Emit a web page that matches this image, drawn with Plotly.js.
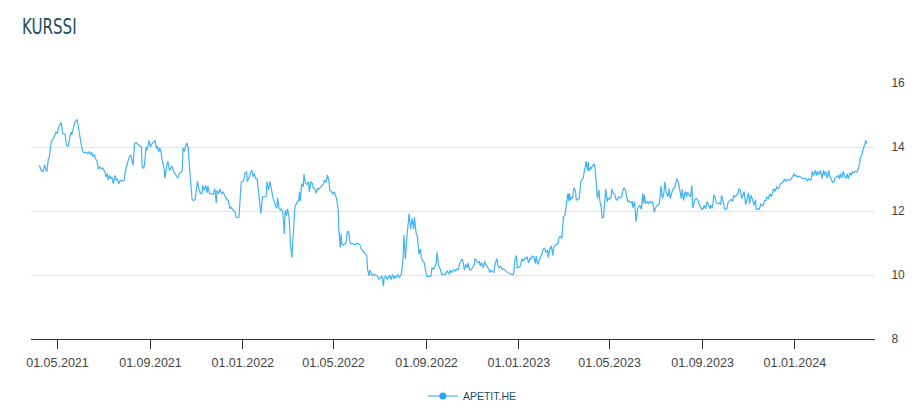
<!DOCTYPE html>
<html>
<head>
<meta charset="utf-8">
<script src="https://cdn.plot.ly/plotly-3.0.1.min.js"></script>
<style>
html,body{margin:0;padding:0;background:#fff;}
#chart{width:921px;height:419px;}
</style>
</head>
<body>
<div id="chart"></div>
<script>
const chartTitle = 'KURSSI';
const seriesName = 'APETIT.HE';
const tickDates = ['2021-05-01','2021-09-01','2022-01-01','2022-05-01','2022-09-01','2023-01-01','2023-05-01','2023-09-01','2024-01-01'];
const yTicks = [8, 10, 12, 14, 16];

const dates = [
'2021-04-07','2021-04-10','2021-04-12','2021-04-14','2021-04-16','2021-04-17','2021-04-19','2021-04-20','2021-04-23','2021-04-25',
'2021-04-27','2021-04-29','2021-05-01','2021-05-02','2021-05-04','2021-05-06','2021-05-08','2021-05-11','2021-05-13','2021-05-15',
'2021-05-17','2021-05-19','2021-05-20','2021-05-22','2021-05-24','2021-05-27','2021-05-29','2021-05-31','2021-06-02','2021-06-04',
'2021-06-06','2021-06-08','2021-06-10','2021-06-12','2021-06-14','2021-06-15','2021-06-17','2021-06-19','2021-06-20','2021-06-22',
'2021-06-24','2021-06-26','2021-06-28','2021-06-30','2021-07-03','2021-07-04','2021-07-06','2021-07-07','2021-07-09','2021-07-11',
'2021-07-12','2021-07-14','2021-07-16','2021-07-18','2021-07-19','2021-07-21','2021-07-23','2021-07-26','2021-07-28','2021-07-30',
'2021-08-02','2021-08-04','2021-08-06','2021-08-08','2021-08-09','2021-08-11','2021-08-13','2021-08-16','2021-08-18','2021-08-20',
'2021-08-21','2021-08-23','2021-08-24','2021-08-26','2021-08-27','2021-08-29','2021-08-30','2021-09-01','2021-09-03','2021-09-05',
'2021-09-07','2021-09-09','2021-09-10','2021-09-12','2021-09-13','2021-09-15','2021-09-16','2021-09-19','2021-09-20','2021-09-23',
'2021-09-24','2021-09-26','2021-09-27','2021-09-29','2021-10-01','2021-10-02','2021-10-05','2021-10-07','2021-10-09','2021-10-11',
'2021-10-13','2021-10-14','2021-10-16','2021-10-17','2021-10-19','2021-10-21','2021-10-22','2021-10-24','2021-10-26','2021-10-28',
'2021-10-30','2021-10-31','2021-11-02','2021-11-04','2021-11-06','2021-11-08','2021-11-09','2021-11-11','2021-11-13','2021-11-15',
'2021-11-16','2021-11-18','2021-11-21','2021-11-23','2021-11-25','2021-11-27','2021-11-28','2021-11-30','2021-12-02','2021-12-04',
'2021-12-06','2021-12-08','2021-12-09','2021-12-11','2021-12-13','2021-12-15','2021-12-16','2021-12-18','2021-12-20','2021-12-22',
'2021-12-23','2021-12-25','2021-12-27','2021-12-29','2021-12-30',
'2022-01-02','2022-01-04','2022-01-06','2022-01-07','2022-01-10','2022-01-11','2022-01-13','2022-01-15','2022-01-16','2022-01-18',
'2022-01-20','2022-01-22','2022-01-24','2022-01-25','2022-01-27','2022-01-30','2022-02-01','2022-02-02','2022-02-04','2022-02-06',
'2022-02-08','2022-02-10','2022-02-13','2022-02-15','2022-02-16','2022-02-18','2022-02-20','2022-02-21','2022-02-23','2022-02-25',
'2022-02-26','2022-02-28','2022-03-01','2022-03-03','2022-03-04','2022-03-05','2022-03-07','2022-03-09','2022-03-11','2022-03-13',
'2022-03-16','2022-03-17','2022-03-18','2022-03-20','2022-03-22','2022-03-23','2022-03-25','2022-03-27','2022-03-29','2022-03-30',
'2022-04-01','2022-04-03','2022-04-04','2022-04-06','2022-04-08','2022-04-10','2022-04-11','2022-04-13','2022-04-15','2022-04-18',
'2022-04-19','2022-04-21','2022-04-23','2022-04-25','2022-04-26','2022-04-28','2022-04-30','2022-05-02','2022-05-04','2022-05-05',
'2022-05-07','2022-05-08','2022-05-10','2022-05-11','2022-05-12','2022-05-14','2022-05-16','2022-05-18','2022-05-19','2022-05-21',
'2022-05-23','2022-05-25','2022-05-27','2022-05-30','2022-06-01','2022-06-03','2022-06-05','2022-06-07','2022-06-10','2022-06-12',
'2022-06-14','2022-06-15','2022-06-17','2022-06-18','2022-06-20','2022-06-21','2022-06-24','2022-06-26','2022-06-28','2022-06-30',
'2022-07-02','2022-07-04','2022-07-06','2022-07-07','2022-07-09','2022-07-11','2022-07-13','2022-07-14','2022-07-16','2022-07-18',
'2022-07-20','2022-07-21','2022-07-23','2022-07-25','2022-07-27','2022-07-29','2022-07-30','2022-08-01','2022-08-02','2022-08-04',
'2022-08-06','2022-08-08','2022-08-09','2022-08-11','2022-08-13','2022-08-15','2022-08-16','2022-08-18','2022-08-20','2022-08-22',
'2022-08-24','2022-08-25','2022-08-27','2022-08-29','2022-08-31','2022-09-01','2022-09-03','2022-09-05','2022-09-07','2022-09-08',
'2022-09-10','2022-09-12','2022-09-14','2022-09-15','2022-09-17','2022-09-19','2022-09-21','2022-09-23','2022-09-24','2022-09-26',
'2022-09-28','2022-09-30','2022-10-01',
'2022-10-02','2022-10-04','2022-10-07','2022-10-09','2022-10-11','2022-10-13','2022-10-15','2022-10-18','2022-10-20','2022-10-21',
'2022-10-23','2022-10-25','2022-10-26','2022-10-28','2022-10-30','2022-11-01','2022-11-03','2022-11-04','2022-11-06','2022-11-08',
'2022-11-10','2022-11-11','2022-11-13','2022-11-15','2022-11-17','2022-11-18','2022-11-20','2022-11-22','2022-11-24','2022-11-25',
'2022-11-27','2022-11-29','2022-12-01','2022-12-03','2022-12-04','2022-12-06','2022-12-08','2022-12-10','2022-12-12','2022-12-14',
'2022-12-16','2022-12-18','2022-12-21','2022-12-23','2022-12-25','2022-12-27','2022-12-29','2022-12-30','2023-01-01','2023-01-03',
'2023-01-05','2023-01-07','2023-01-09','2023-01-10','2023-01-12','2023-01-14','2023-01-16','2023-01-17','2023-01-19','2023-01-21',
'2023-01-23','2023-01-24','2023-01-26','2023-01-28','2023-01-30','2023-02-01','2023-02-02','2023-02-04','2023-02-06','2023-02-08',
'2023-02-09','2023-02-11','2023-02-13','2023-02-15','2023-02-16','2023-02-18','2023-02-20','2023-02-22','2023-02-23','2023-02-25',
'2023-02-27','2023-03-01','2023-03-03','2023-03-04','2023-03-05','2023-03-07','2023-03-08','2023-03-09','2023-03-10','2023-03-12',
'2023-03-13','2023-03-15','2023-03-17','2023-03-18','2023-03-20','2023-03-22','2023-03-24','2023-03-25','2023-03-27','2023-03-29',
'2023-03-30','2023-03-31','2023-04-02','2023-04-03','2023-04-04','2023-04-06','2023-04-07','2023-04-08','2023-04-09','2023-04-11',
'2023-04-12','2023-04-13','2023-04-15','2023-04-17','2023-04-18','2023-04-20','2023-04-21','2023-04-23','2023-04-24','2023-04-26',
'2023-04-28','2023-04-29','2023-05-01','2023-05-03','2023-05-04','2023-05-06','2023-05-08','2023-05-09','2023-05-11','2023-05-13',
'2023-05-15','2023-05-17','2023-05-18','2023-05-20','2023-05-22','2023-05-24','2023-05-25','2023-05-27','2023-05-29','2023-05-31',
'2023-06-01','2023-06-03','2023-06-05','2023-06-07','2023-06-09','2023-06-10','2023-06-12','2023-06-14','2023-06-15','2023-06-16',
'2023-06-18','2023-06-20','2023-06-22','2023-06-23','2023-06-25','2023-06-27','2023-06-29','2023-07-01',
'2023-07-02','2023-07-05','2023-07-06','2023-07-08','2023-07-10','2023-07-12','2023-07-13','2023-07-15','2023-07-17','2023-07-19',
'2023-07-20','2023-07-22','2023-07-24','2023-07-26','2023-07-28','2023-07-29','2023-07-31','2023-08-02','2023-08-04','2023-08-05',
'2023-08-07','2023-08-09','2023-08-11','2023-08-12','2023-08-14','2023-08-16','2023-08-18','2023-08-19','2023-08-20','2023-08-22',
'2023-08-24','2023-08-26','2023-08-27','2023-08-29','2023-08-31','2023-09-02','2023-09-03','2023-09-05','2023-09-07','2023-09-09',
'2023-09-11','2023-09-12','2023-09-14','2023-09-16','2023-09-18','2023-09-19','2023-09-21','2023-09-23','2023-09-25','2023-09-26',
'2023-09-28','2023-09-30','2023-10-02','2023-10-03','2023-10-05','2023-10-07','2023-10-09','2023-10-11','2023-10-12','2023-10-14',
'2023-10-16','2023-10-18','2023-10-19','2023-10-21','2023-10-23','2023-10-25','2023-10-26','2023-10-28','2023-10-30','2023-11-01',
'2023-11-02','2023-11-04','2023-11-06','2023-11-08','2023-11-10','2023-11-11','2023-11-13','2023-11-15','2023-11-17','2023-11-18',
'2023-11-20','2023-11-22','2023-11-24','2023-11-25','2023-11-27','2023-11-29','2023-12-01','2023-12-02','2023-12-04','2023-12-06',
'2023-12-08','2023-12-10','2023-12-11','2023-12-13','2023-12-15','2023-12-17','2023-12-18','2023-12-20','2023-12-22','2023-12-24',
'2023-12-25','2023-12-27','2023-12-29','2023-12-31','2024-01-01','2024-01-03','2024-01-05','2024-01-07','2024-01-09','2024-01-10',
'2024-01-12','2024-01-14','2024-01-16','2024-01-17','2024-01-19','2024-01-21','2024-01-23','2024-01-24','2024-01-26','2024-01-28',
'2024-01-30','2024-01-31','2024-02-02','2024-02-04','2024-02-06','2024-02-08','2024-02-09','2024-02-11','2024-02-13','2024-02-15',
'2024-02-16','2024-02-18','2024-02-20','2024-02-22','2024-02-23','2024-02-25','2024-02-27','2024-02-29','2024-03-01','2024-03-03',
'2024-03-05','2024-03-07','2024-03-09','2024-03-10','2024-03-12','2024-03-14','2024-03-16','2024-03-17','2024-03-19','2024-03-21',
'2024-03-23','2024-03-24','2024-03-26','2024-03-28','2024-03-30','2024-03-31','2024-04-02','2024-04-04','2024-04-05'
];

const prices = [
13.43,13.24,13.24,13.45,13.27,13.24,13.64,13.66,14.18,14.24,
14.34,14.47,14.42,14.57,14.70,14.76,14.42,14.39,14.05,14.03,
14.26,14.47,14.39,14.63,14.78,14.86,14.57,14.16,14.00,13.84,
13.82,13.84,13.79,13.86,13.76,13.84,13.71,13.76,13.64,13.58,
13.30,13.38,13.32,13.34,13.20,13.06,13.17,12.96,13.11,13.01,
13.06,12.85,13.11,12.96,13.01,12.85,12.96,12.93,12.96,13.27,
13.55,13.71,13.74,13.58,13.43,14.10,14.14,14.07,14.03,14.00,
13.38,13.34,13.43,14.00,13.90,14.05,14.21,14.00,14.10,14.16,
14.21,13.95,14.03,13.84,13.97,13.86,13.64,13.32,13.03,13.48,
13.55,13.27,13.30,13.41,13.27,13.22,13.11,13.03,13.17,13.20,
13.27,13.97,13.86,14.00,14.13,13.97,13.53,12.96,12.36,12.33,
12.36,12.54,12.93,12.70,12.54,12.54,12.80,12.65,12.80,12.57,
12.78,12.54,12.53,12.53,12.70,12.25,12.65,12.54,12.68,12.54,
12.59,12.47,12.44,12.36,12.33,12.07,12.13,12.07,12.02,11.95,
11.81,11.79,11.81,12.49,12.91,
12.94,13.18,13.23,12.92,13.07,13.18,13.28,13.07,13.18,13.02,
13.00,12.49,12.18,11.92,12.44,12.47,12.47,12.92,12.65,12.92,
12.60,12.41,12.18,12.09,12.41,12.09,12.02,12.07,11.92,11.28,
12.02,11.86,12.07,11.86,11.49,10.97,10.55,11.55,12.13,12.23,
12.34,12.60,12.31,12.86,12.76,13.15,12.86,12.83,12.92,12.60,
12.92,12.86,12.73,12.71,12.55,12.71,12.68,12.73,12.76,12.86,
12.97,12.89,13.13,12.92,12.65,12.62,12.52,12.60,12.44,12.39,
12.07,11.44,10.86,11.28,10.97,10.94,10.97,11.02,11.34,11.36,
11.00,10.97,10.97,10.94,11.00,10.97,10.94,10.81,10.71,10.65,
10.60,10.18,9.97,10.16,10.02,9.99,10.02,9.99,9.97,9.86,
9.92,9.97,9.65,9.92,9.97,9.86,9.95,9.99,9.86,10.02,
9.88,9.97,9.92,10.02,9.92,9.99,10.07,10.49,11.25,10.49,
11.18,11.65,11.92,11.44,11.76,11.44,11.81,11.34,11.18,10.65,
10.81,10.55,10.44,10.39,10.18,9.97,9.95,9.97,9.97,10.23,
10.18,10.26,10.39,10.71,10.28,10.20,10.02,10.02,10.02,10.02,
10.13,10.07,10.02,
10.15,10.08,10.17,10.12,10.19,10.17,10.38,10.51,10.33,10.15,
10.33,10.22,10.38,10.15,10.17,10.22,10.30,10.51,10.43,10.38,
10.43,10.28,10.38,10.22,10.43,10.33,10.28,10.17,10.08,10.15,
10.12,10.08,10.38,10.51,10.33,10.22,10.28,10.17,10.19,10.15,
10.12,10.06,10.04,10.01,10.01,10.49,10.61,10.22,10.25,10.28,
10.51,10.43,10.54,10.49,10.57,10.38,10.54,10.49,10.59,10.57,
10.36,10.59,10.33,10.49,10.57,10.68,10.80,10.83,10.70,10.78,
10.54,10.80,10.91,10.61,10.86,10.93,10.96,10.99,11.17,11.21,
11.14,11.81,11.86,11.99,12.23,12.55,12.31,12.55,12.34,12.44,
12.39,12.73,12.62,12.34,12.37,12.39,12.94,12.97,13.01,13.29,
13.37,13.56,13.26,13.53,13.24,13.37,13.32,13.40,13.43,13.47,
13.29,12.92,12.39,12.66,12.34,12.13,11.78,11.81,12.18,12.69,
12.29,12.39,12.37,12.44,12.69,12.55,12.52,12.39,12.34,12.44,
12.41,12.44,12.60,12.73,12.66,12.39,12.29,12.31,12.26,12.29,
12.10,12.29,11.67,12.07,12.13,12.18,12.05,12.55,12.23,12.50,
12.23,12.29,12.23,12.29,12.26,12.29,11.97,12.13,
12.16,12.20,12.23,12.78,12.39,12.59,12.91,12.59,12.44,12.70,
12.39,12.54,12.70,12.72,12.99,13.01,12.91,12.65,12.39,12.68,
12.33,12.61,12.44,12.59,12.49,12.44,12.80,12.09,12.18,12.36,
12.39,12.33,12.23,12.13,12.05,12.07,12.18,12.07,12.30,12.18,
12.07,12.18,12.09,12.51,12.39,12.26,12.23,12.26,12.20,12.49,
12.33,12.07,12.05,12.07,12.28,12.33,12.36,12.30,12.49,12.44,
12.49,12.54,12.70,12.65,12.39,12.57,12.61,12.20,12.44,12.57,
12.23,12.49,12.36,12.18,12.36,12.05,12.07,12.05,12.23,12.18,
12.16,12.33,12.33,12.44,12.39,12.54,12.44,12.54,12.70,12.61,
12.75,12.70,12.72,12.85,12.89,12.91,13.01,12.93,12.99,12.96,
12.96,12.99,13.11,13.17,13.09,13.11,13.06,13.09,13.06,13.03,
13.01,13.03,13.01,12.93,13.01,12.96,13.01,13.24,13.11,13.27,
13.11,13.24,13.14,13.27,13.01,13.27,13.11,13.24,13.03,13.27,
13.11,13.01,12.89,12.91,13.03,13.06,13.11,13.01,13.17,13.03,
13.24,13.06,13.03,13.17,13.01,13.20,13.11,13.22,13.20,13.24,
13.22,13.27,13.41,13.69,13.79,13.90,14.03,14.21,14.10
];

const lineColor = '#41b3f5';

const traces = [
  {
    type: 'scatter', mode: 'lines', x: dates, y: prices, name: seriesName,
    line: {color: lineColor, width: 1.2}, showlegend: false, hoverinfo: 'x+y'
  },
  {
    type: 'scatter', mode: 'lines+markers', x: [null], y: [null], name: seriesName,
    line: {color: '#8fd2fb', width: 2}, marker: {color: '#2ea6ef', size: 7}, showlegend: true
  }
];

const layout = {
  width: 921, height: 419,
  paper_bgcolor: '#ffffff', plot_bgcolor: '#ffffff',
  margin: {l: 31, r: 46, t: 83, b: 80, pad: 0},
  font: {family: 'Liberation Sans, Arial, sans-serif', color: '#444', size: 12},
  title: {
    text: chartTitle, xref: 'container', yref: 'container', x: 22/921, xanchor: 'left',
    y: 1 - 27/419, yanchor: 'middle',
    font: {family: 'DejaVu Sans Condensed, Liberation Sans Narrow, sans-serif', size: 21, color: '#1d4e63'}
  },
  xaxis: {
    type: 'date', range: ['2021-03-27', '2024-04-16'],
    tickvals: tickDates, tickformat: '%d.%m.%Y',
    showgrid: false, zeroline: false,
    showline: true, linecolor: '#333', linewidth: 1,
    ticks: 'outside', ticklen: 9, tickcolor: '#333', tickwidth: 1,
    ticklabelstandoff: 3,
    tickfont: {size: 12.5, color: '#444'}
  },
  yaxis: {
    side: 'right', range: [8, 16], tickvals: yTicks,
    showgrid: true, gridcolor: '#e6e6e6', gridwidth: 1,
    zeroline: false, showline: false,
    ticks: 'outside', ticklen: 13, tickcolor: 'rgba(0,0,0,0)',
    tickfont: {size: 12, color: '#444'}
  },
  showlegend: true,
  legend: {
    orientation: 'h', x: 0.523, xanchor: 'center', y: 23/419, yref: 'container',
    yanchor: 'middle',
    font: {size: 10.5, color: '#1d4e63'}
  },
  hovermode: 'closest'
};

Plotly.newPlot('chart', traces, layout, {displayModeBar: false, staticPlot: true}).then(function (gd) {
  const t = gd.querySelector('.gtitle');
  if (t) {
    const x0 = parseFloat(t.getAttribute('x')) || 22;
    const s = 0.8;
    t.setAttribute('transform', 'translate(' + (x0 * (1 - s)) + ',0) scale(' + s + ',1)');
  }
});
</script>
</body>
</html>
